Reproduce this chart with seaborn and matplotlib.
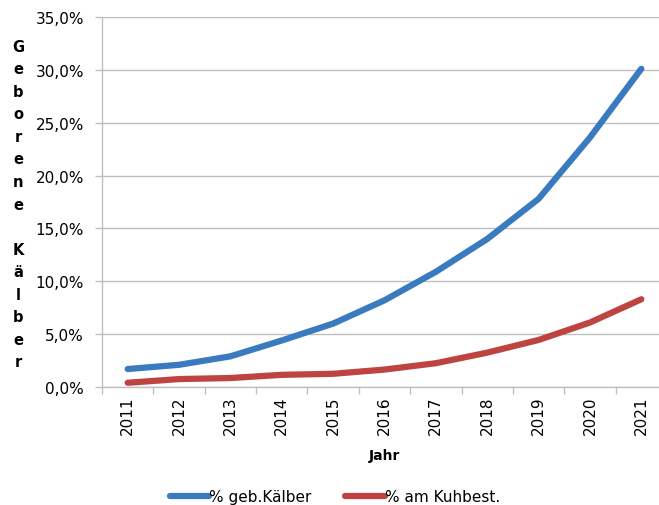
"""
Geborene Kälber je Jahr: Anteil an geborenen Kälbern und am Kuhbestand
"""
import matplotlib
matplotlib.use("Agg")
import matplotlib.pyplot as plt
from matplotlib.ticker import FuncFormatter, FixedLocator
import numpy as np
import pandas as pd
import seaborn as sns

# ── Daten ──
jahre = ["2011", "2012", "2013", "2014", "2015", "2016",
         "2017", "2018", "2019", "2020", "2021"]
geb_kaelber = [1.7, 2.1, 2.9, 4.4, 6.0, 8.2, 10.9, 14.0, 17.8, 23.6, 30.1]
am_kuhbest = [0.4, 0.75, 0.85, 1.15, 1.25, 1.65, 2.25, 3.25, 4.45, 6.1, 8.3]
serien = ["% geb.Kälber", "% am Kuhbest."]
farben = ["#3A7ABF", "#BE4441"]

df = pd.DataFrame({
    "Jahr": jahre * 2,
    "Wert": geb_kaelber + am_kuhbest,
    "Serie": [serien[0]] * len(jahre) + [serien[1]] * len(jahre),
})

sns.set_theme(style="white")
plt.rcParams["font.family"] = ["DejaVu Sans"]
plt.rcParams["text.color"] = "black"
plt.rcParams["axes.labelcolor"] = "black"

fig = plt.figure(figsize=(6.59, 5.06), dpi=100)
ax = fig.add_axes([102 / 659, 118 / 506, 565 / 659, 370 / 506])

sns.lineplot(data=df, x="Jahr", y="Wert", hue="Serie", palette=farben,
             linewidth=4.5, sort=False, ax=ax, solid_capstyle="round")

ax.set_xlim(-0.5, len(jahre) - 0.5)
ax.set_ylim(0, 35)
ax.set_yticks(np.arange(0, 36, 5))
ax.yaxis.set_major_formatter(FuncFormatter(lambda v, _: f"{v:.1f}%".replace(".", ",")))
ax.grid(axis="y", color="#BFBFBF", linewidth=1)
ax.set_axisbelow(True)

# Kategorie-Achse: Beschriftung mittig, Striche an den Grenzen
ax.set_xticks(range(len(jahre)))
ax.set_xticklabels(jahre, rotation=90)
ax.xaxis.set_minor_locator(FixedLocator(np.arange(-0.5, len(jahre), 1)))
ax.tick_params(axis="x", which="major", length=0, pad=6, labelsize=11, labelcolor="black")
ax.tick_params(axis="x", which="minor", length=5, color="#BFBFBF", width=1, direction="out", bottom=True)
ax.tick_params(axis="y", length=5, color="#BFBFBF", width=1, direction="out", left=True,
               pad=8, labelsize=11, labelcolor="black")

for side in ["top", "right"]:
    ax.spines[side].set_visible(False)
for side in ["left", "bottom"]:
    ax.spines[side].set_color("#BFBFBF")
    ax.spines[side].set_linewidth(1)

ax.set_xlabel("Jahr", fontsize=10, fontweight="bold", labelpad=10, color="black")
ax.set_ylabel("")

# Y-Titel: Buchstaben untereinander
fig.text(18 / 659, 1 - 205 / 506, "\n".join(list("Geborene Kälber")),
         ha="center", va="center", fontsize=10.5, fontweight="bold",
         linespacing=1.63, color="black")

handles, labels = ax.get_legend_handles_labels()
leg = ax.legend(handles, labels, loc="center", bbox_to_anchor=(335 / 659, 8 / 506),
                bbox_transform=fig.transFigure, ncol=2, frameon=False,
                handlelength=2.6, handletextpad=0.0, columnspacing=2.2, fontsize=11)
for t in leg.get_texts():
    t.set_color("black")

plt.savefig("out.png", dpi=100)
plt.close()
